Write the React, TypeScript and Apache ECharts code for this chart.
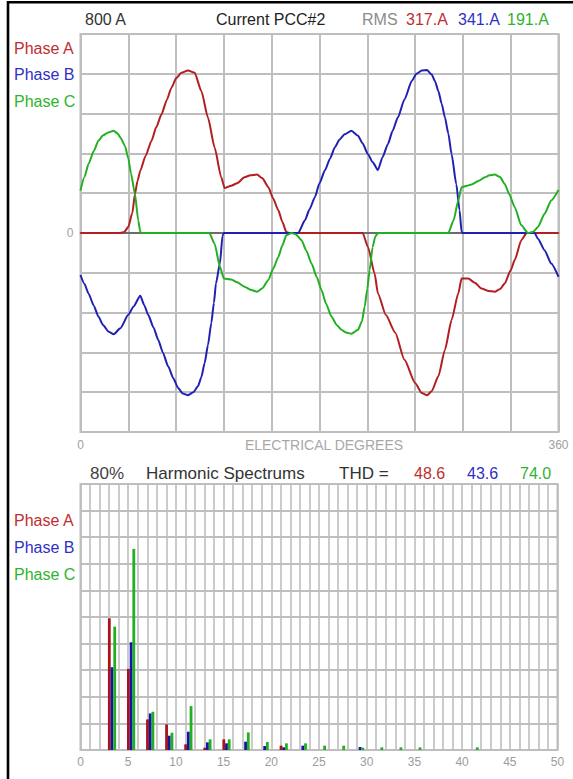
import React, { useEffect, useRef } from "react";
import * as echarts from "echarts";

// ---------- Current waveforms (degrees, amperes) ----------
const phaseA: [number, number][] = [
  [0, 0], [10, 0], [20, 0], [30, 0], [33, 4], [36, 25], [39, 80], [41, 157], [43, 210], [45, 250],
  [49, 310], [53.5, 371], [57, 425], [61, 477], [65, 535], [68.5, 584], [72, 622], [76, 644], [81, 653],
  [86, 644], [91, 571], [96, 464], [101, 344], [106, 224], [108.5, 181], [113.5, 190], [118, 200],
  [123.5, 224], [128, 232], [133, 235], [137, 220], [141.5, 184], [145, 140], [149, 91], [152, 45],
  [155, 4], [157, 0], [170, 0], [185, 0], [200, 0], [212.5, 0], [216.5, -56], [221.5, -163], [224, -243],
  [230, -330], [237, -400], [244, -510], [252, -603], [257, -643], [261, -652], [264.5, -636],
  [269.5, -576], [274.5, -469], [279.5, -349], [284.5, -243], [287, -183], [292, -183], [297, -200],
  [302, -223], [307, -233], [312, -236], [316, -225], [319.5, -203], [324, -150], [327, -109],
  [332, -29], [336, 0], [345, 0], [360, 0],
];

const phaseB: [number, number][] = [
  [0, -169], [3, -205], [6, -243], [10, -292], [13.5, -336], [17, -370], [21, -396], [25, -407],
  [30, -383], [36, -329], [40, -295], [45, -252], [48, -290], [51, -329], [55, -380], [58.5, -429],
  [62, -480], [66, -536], [70, -585], [73.5, -623], [77, -645], [81, -652], [85, -640], [88.5, -616],
  [91, -580], [93.5, -523], [96, -450], [98.5, -363], [100.5, -280], [102, -203], [105, -123],
  [107, -9], [108, 0], [120, 0], [135, 0], [150, 0], [164, 0], [169, 51], [172.5, 95], [176.5, 144],
  [180, 200], [184, 251], [188, 300], [191.5, 344], [195, 375], [199, 397], [204, 411], [209, 391],
  [212.5, 360], [216.5, 317], [220, 285], [224, 253], [227.5, 305], [231.5, 357], [235, 410],
  [239, 464], [244, 537], [249.5, 611], [253, 640], [257, 653], [261, 655], [264.5, 637], [267, 610],
  [269.5, 571], [272, 520], [274.5, 464], [277, 400], [279.5, 317], [283, 197], [285.5, 91],
  [287, 4], [288, 0], [300, 0], [315, 0], [330, 0], [342, 0], [344.5, -23], [349.5, -69],
  [354.5, -123], [360, -176],
];

const phaseC: [number, number][] = [
  [0, 171], [3, 225], [6, 277], [10, 330], [13.5, 371], [17, 393], [21, 404], [25, 411], [28, 400],
  [30, 384], [33.5, 350], [36, 300], [38, 240], [41, 157], [43.5, 50], [45, 5], [46, 0], [60, 0],
  [75, 0], [90, 0], [97, 0], [101, -43], [105, -136], [108, -183], [113.5, -187], [118, -198],
  [123.5, -216], [128, -228], [133, -236], [137, -222], [141.5, -189], [145, -145], [149, -96],
  [152, -50], [155, -9], [159, 0], [162, -5], [166.5, -29], [170, -70], [174, -123], [178, -178],
  [181.5, -229], [185, -285], [189, -336], [193, -370], [196.5, -389], [200, -400], [204, -405],
  [209, -389], [212, -355], [214, -296], [216, -225], [217.75, -149], [220, -56], [222, -15],
  [224, 0], [240, 0], [255, 0], [270, 0], [277, 0], [281, 51], [284.5, 131], [287, 184], [291, 190],
  [294.5, 195], [300, 210], [304.5, 224], [308, 232], [312, 235], [316, 225], [319.5, 197],
  [323, 155], [327, 104], [332, 31], [337, 0], [341, 5], [344.5, 24], [349.5, 77], [354.5, 131],
  [360, 173],
];

// ---------- Harmonic spectrum (% of fundamental) ----------
const harmonics = [3, 5, 7, 9, 11, 13, 15, 17, 19, 21, 23, 25, 27, 29, 31, 33, 35, 41];
const harmA = [39.6, 24.4, 9.2, 7.7, 1.7, 0.7, 3.2, 0, 0, 1.3, 0, 0, 0, 0, 0, 0, 0, 0];
const harmB = [24.9, 32.4, 11.0, 4.3, 5.5, 2.3, 2.0, 2.5, 1.2, 0.8, 1.3, 0, 0, 0.9, 0, 0, 0, 0];
const harmC = [37.1, 60.5, 11.5, 5.2, 13.2, 3.2, 3.2, 5.3, 2.4, 2.0, 2.0, 1.3, 1.3, 0.7, 0.8, 0.8, 0.8, 0.8];

const rmsValues = ["317.A", "341.A", "191.A"];
const thdValues = ["48.6", "43.6", "74.0"];
const phaseNames = ["Phase A", "Phase B", "Phase C"];

const LINE_COLORS = ["#B21E22", "#2020B4", "#22B022"];
const BAR_COLORS = ["#A8141A", "#1414A8", "#22B022"];
const TEXT_COLORS = ["#BE2E30", "#3030C4", "#2EB42E"];
const FONT = '"Liberation Sans", Arial, sans-serif';
const GRID_COLOR = "#BEBEBE";

export default function App() {
  const ref = useRef<HTMLDivElement>(null);

  useEffect(() => {
    if (!ref.current) return;
    const chart = echarts.init(ref.current, undefined, { renderer: "svg" });

    const txt = (text: string, x: number, y: number, fill: string, size = 16, align = "left") => ({
      type: "text",
      x,
      y,
      silent: true,
      style: {
        text,
        fill,
        fontSize: size,
        fontFamily: FONT,
        textAlign: align,
        textVerticalAlign: "middle",
      },
    });

    const barSeries = (vals: number[], idx: number, offset: number) => ({
      type: "custom",
      xAxisIndex: 2,
      yAxisIndex: 1,
      data: harmonics.map((h, i) => [h, vals[i]]),
      encode: { x: 0, y: 1 },
      renderItem: (_params: any, api: any) => {
        const h = api.value(0);
        const v = api.value(1);
        const top = api.coord([h, v]);
        const base = api.coord([h, 0]);
        return {
          type: "rect",
          shape: { x: base[0] + offset, y: top[1], width: 2.8, height: base[1] - top[1] },
          style: { fill: BAR_COLORS[idx] },
        };
      },
    });

    const lineSeries = (data: [number, number][], idx: number) => ({
      type: "line",
      xAxisIndex: 0,
      yAxisIndex: 0,
      data,
      showSymbol: false,
      smooth: 0.2,
      smoothMonotone: "x",
      lineStyle: { color: LINE_COLORS[idx], width: 2 },
      z: 3,
    });

    chart.setOption({
      animation: false,
      backgroundColor: "#ffffff",
      grid: [
        { left: 80.5, top: 34, width: 478, height: 398, show: true, borderColor: GRID_COLOR, borderWidth: 2 },
        { left: 80.5, top: 484, width: 477, height: 266, show: true, borderColor: GRID_COLOR, borderWidth: 2 },
      ],
      xAxis: [
        {
          type: "value", gridIndex: 0, min: 0, max: 360, interval: 36,
          axisLine: { show: false, onZero: false },
          axisTick: { show: false },
          splitLine: { show: true, lineStyle: { color: GRID_COLOR, width: 2 } },
          axisLabel: {
            color: "#a0a0a0", fontSize: 12, fontFamily: FONT, margin: 7,
            formatter: (v: number) => (v === 0 || v === 360 ? String(v) : ""),
          },
        },
        {
          type: "value", gridIndex: 0, min: 0, max: 360,
          axisLine: { show: true, onZero: true, lineStyle: { color: "#505050", width: 1.6 } },
          axisTick: { show: false },
          axisLabel: { show: false },
          splitLine: { show: false },
        },
        {
          type: "value", gridIndex: 1, min: 0, max: 50, interval: 5,
          axisLine: { show: false },
          axisTick: { show: false },
          minorTick: { show: false, splitNumber: 5 },
          splitLine: { show: true, lineStyle: { color: GRID_COLOR, width: 1.6 } },
          minorSplitLine: { show: true, lineStyle: { color: GRID_COLOR, width: 1.6 } },
          axisLabel: { color: "#9c9c9c", fontSize: 12, fontFamily: FONT, margin: 6 },
        },
      ],
      yAxis: [
        {
          type: "value", gridIndex: 0, min: -800, max: 800, interval: 160,
          axisLine: { show: false },
          axisTick: { show: false },
          splitLine: { show: true, lineStyle: { color: GRID_COLOR, width: 2 } },
          axisLabel: {
            color: "#a0a0a0", fontSize: 12, fontFamily: FONT, margin: 7,
            formatter: (v: number) => (v === 0 ? "0" : ""),
          },
        },
        {
          type: "value", gridIndex: 1, min: 0, max: 80, interval: 8,
          axisLine: { show: false },
          axisTick: { show: false },
          splitLine: { show: true, lineStyle: { color: GRID_COLOR, width: 2 } },
          axisLabel: { show: false },
        },
      ],
      series: [
        lineSeries(phaseA, 0),
        lineSeries(phaseB, 1),
        lineSeries(phaseC, 2),
        barSeries(harmA, 0, -1.2),
        barSeries(harmB, 1, 1.5),
        barSeries(harmC, 2, 4.2),
      ],
      graphic: [
        {
          type: "polyline",
          silent: true,
          shape: { points: [[8, 779], [8, 2.3], [573, 2.3]] },
          style: { stroke: "#000000", lineWidth: 2.6, fill: null },
        },
        txt("800 A", 85, 19, "#333333"),
        txt("Current PCC#2", 216, 19, "#222222"),
        txt("RMS", 362, 19, "#8c8c8c"),
        txt(rmsValues[0], 406, 19, TEXT_COLORS[0]),
        txt(rmsValues[1], 458, 19, TEXT_COLORS[1]),
        txt(rmsValues[2], 507, 19, TEXT_COLORS[2]),
        txt(phaseNames[0], 14, 48, TEXT_COLORS[0]),
        txt(phaseNames[1], 14, 74, TEXT_COLORS[1]),
        txt(phaseNames[2], 14, 101, TEXT_COLORS[2]),
        txt("ELECTRICAL DEGREES", 324, 445, "#a8a8a8", 14, "center"),
        txt("80%", 90, 473, "#444444", 17),
        txt("Harmonic Spectrums", 146, 473, "#333333", 17),
        txt("THD =", 339, 473, "#333333", 17),
        txt(thdValues[0], 414, 473, TEXT_COLORS[0], 16),
        txt(thdValues[1], 467, 473, TEXT_COLORS[1], 16),
        txt(thdValues[2], 520, 473, TEXT_COLORS[2], 16),
        txt(phaseNames[0], 14, 520, TEXT_COLORS[0]),
        txt(phaseNames[1], 14, 547, TEXT_COLORS[1]),
        txt(phaseNames[2], 14, 574, TEXT_COLORS[2]),
      ],
    });

    return () => chart.dispose();
  }, []);

  return (
    <div
      ref={ref}
      style={{ position: "absolute", left: 0, top: 0, width: 573, height: 779, background: "#ffffff" }}
    />
  );
}
